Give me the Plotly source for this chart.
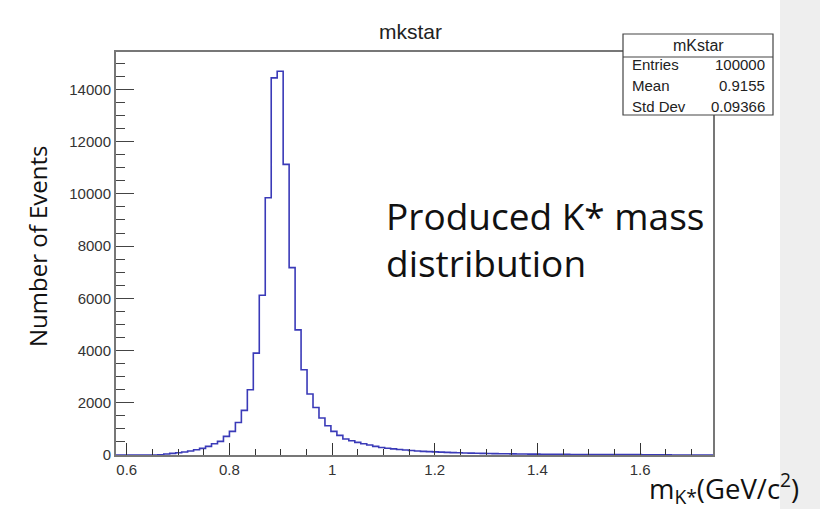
import plotly.graph_objects as go

# ---- data ----
x_min = 0.579
x_max = 1.742
n_bins = 100
counts = [0, 0, 0, 0, 0, 0, 0,
          12, 38, 61, 88, 115, 153, 203, 253, 330, 432, 521, 712, 903, 1247,
          1707, 2497, 3900, 6118, 9851, 14440, 14696, 11128, 7174, 4792,
          3262, 2333, 1820, 1415, 1120, 903, 750, 612, 547, 482,
          432, 382, 329, 290, 260, 235, 210, 190, 170, 155,
          140, 130, 120, 110, 100, 92, 85, 78, 72, 67,
          62, 58, 54, 50, 46, 43, 40, 38, 35, 33,
          31, 29, 27, 25, 24, 22, 21, 20, 19, 18,
          17, 16, 15, 15, 14, 13, 13, 12, 12, 11,
          11, 10, 0, 0, 0, 0, 0, 0, 0]
x_tick_vals = [0.6, 0.8, 1.0, 1.2, 1.4, 1.6]
x_tick_text = ["0.6", "0.8", "1", "1.2", "1.4", "1.6"]
y_tick_vals = [0, 2000, 4000, 6000, 8000, 10000, 12000, 14000]
y_tick_text = ["0", "2000", "4000", "6000", "8000", "10000", "12000", "14000"]
stats_names = ["Entries", "Mean", "Std Dev"]
stats_values = ["100000", "0.9155", "0.09366"]

bw = (x_max - x_min) / n_bins
edges = [x_min + i * bw for i in range(n_bins + 1)]
xs = edges
ys = counts + [counts[-1]]
y_max = 1.05 * max(counts)

# plot area in pixels
L, R, T, B = 116, 713, 52, 455
W, H = 820, 509


def px(xp):
    return (xp - L) / (R - L)


def py(yp):
    return (B - yp) / (B - T)


fig = go.Figure()
fig.add_trace(go.Scatter(x=xs, y=ys, mode="lines", line_shape="hv",
                         line=dict(color="#3a3ab8", width=1.6),
                         hoverinfo="skip", showlegend=False))

axis_font = dict(family="Liberation Sans, Arial, sans-serif", size=15, color="#333333")

fig.update_layout(
    width=W, height=H,
    margin=dict(l=L, r=W - R, t=T, b=H - B),
    paper_bgcolor="white", plot_bgcolor="white",
    showlegend=False,
    xaxis=dict(range=[x_min, x_max], tickvals=x_tick_vals, ticktext=x_tick_text,
               ticks="inside", ticklen=12, tickwidth=1, tickcolor="#333333",
               minor=dict(dtick=0.05, ticks="inside", ticklen=6, tickcolor="#333333", tick0=0.0),
               showgrid=False, zeroline=False, showline=True, mirror=True,
               linecolor="#777777", linewidth=2, tickfont=axis_font),
    yaxis=dict(range=[0, y_max], tickvals=y_tick_vals, ticktext=y_tick_text,
               ticks="inside", ticklen=18, tickwidth=1, tickcolor="#444444",
               minor=dict(dtick=500, ticks="inside", ticklen=9, tickcolor="#444444", tick0=0),
               showgrid=False, zeroline=False, showline=True, mirror=True,
               linecolor="#777777", linewidth=2, tickfont=axis_font),
)

shapes = []
# slide gray region on the right
shapes.append(dict(type="rect", xref="paper", yref="paper",
                   x0=px(780), x1=px(825), y0=py(515), y1=py(-5),
                   fillcolor="#eeeeee", line=dict(width=0), layer="below"))
# stats box
shapes.append(dict(type="rect", xref="paper", yref="paper",
                   x0=px(623), x1=px(773), y0=py(115), y1=py(34),
                   fillcolor="white", line=dict(color="#444444", width=1.2), layer="above"))
shapes.append(dict(type="line", xref="paper", yref="paper",
                   x0=px(623), x1=px(773), y0=py(57), y1=py(57),
                   line=dict(color="#444444", width=1.2), layer="above"))
fig.update_layout(shapes=shapes)

root_font = "Liberation Sans, Arial, sans-serif"
slide_font = "Open Sans, sans-serif"
ann = []
ann.append(dict(text="mkstar", x=px(410), y=py(32), xref="paper", yref="paper",
                showarrow=False, xanchor="center", yanchor="middle",
                font=dict(family=root_font, size=21, color="#222222")))
ann.append(dict(text="mKstar", x=px(698), y=py(45.5), xref="paper", yref="paper",
                showarrow=False, xanchor="center", yanchor="middle",
                font=dict(family=root_font, size=16, color="#222222")))
stat_y = [65, 85.5, 106]
for name, val, yy in zip(stats_names, stats_values, stat_y):
    ann.append(dict(text=name, x=px(630), y=py(yy), xref="paper", yref="paper",
                    showarrow=False, xanchor="left", yanchor="middle",
                    font=dict(family=root_font, size=15, color="#222222")))
    ann.append(dict(text=val, x=px(767), y=py(yy), xref="paper", yref="paper",
                    showarrow=False, xanchor="right", yanchor="middle",
                    font=dict(family=root_font, size=15, color="#222222")))
ann.append(dict(text="Number of Events", x=px(37), y=py(247), xref="paper", yref="paper",
                showarrow=False, xanchor="center", yanchor="middle", textangle=-90,
                font=dict(family=slide_font, size=24, color="#111111")))
ann.append(dict(text="Produced K* mass", x=px(384), y=py(216), xref="paper", yref="paper",
                showarrow=False, xanchor="left", yanchor="middle",
                font=dict(family=slide_font, size=37, color="#111111")))
ann.append(dict(text="distribution", x=px(384), y=py(262), xref="paper", yref="paper",
                showarrow=False, xanchor="left", yanchor="middle",
                font=dict(family=slide_font, size=37, color="#111111")))
ann.append(dict(text="m<sub>K*</sub>(GeV/c<sup>2</sup>)", x=px(801), y=py(488), xref="paper", yref="paper",
                showarrow=False, xanchor="right", yanchor="middle",
                font=dict(family=slide_font, size=27.5, color="#111111")))
fig.update_layout(annotations=ann)

fig.write_html("out.html")
